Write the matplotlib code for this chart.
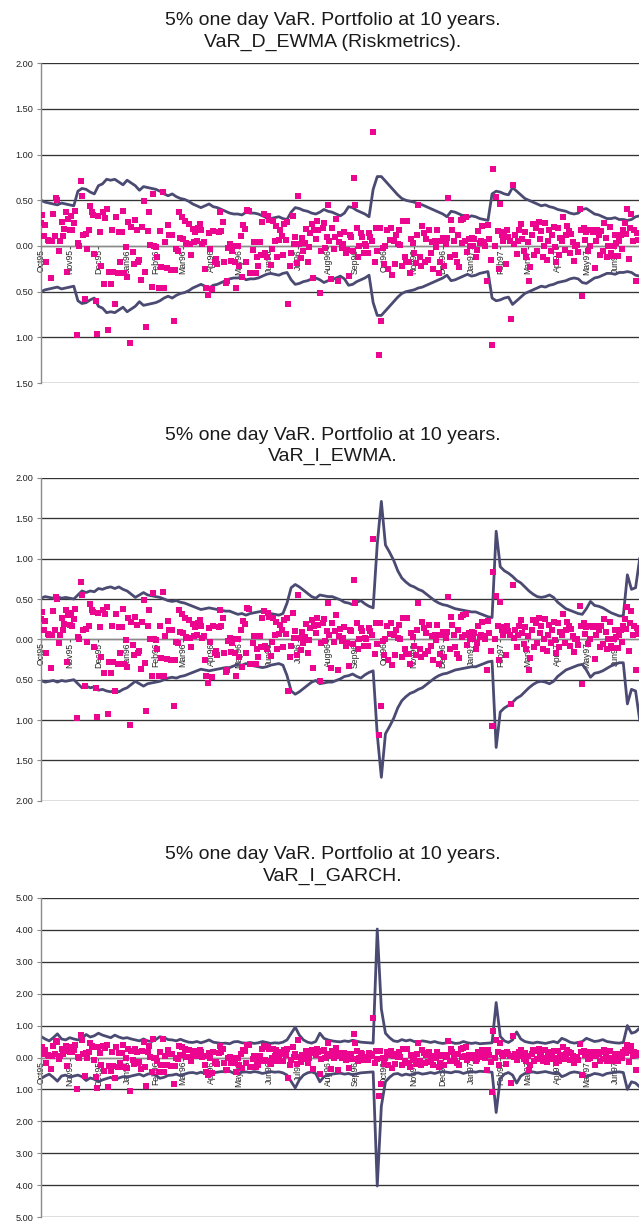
import numpy as np
import matplotlib
matplotlib.use("Agg")
import matplotlib.pyplot as plt
from matplotlib.ticker import MultipleLocator, FuncFormatter

plt.rcParams['font.family'] = ['Liberation Sans', 'DejaVu Sans']

# ---------------- data ----------------
month_labels = ["Oct95", "Nov95", "Dec95", "Jan96", "Feb96", "Mar96", "Apr96",
                "May96", "Jun96", "Jul96", "Aug96", "Sep96", "Oct96", "Nov96",
                "Dec96", "Jan97", "Feb97", "Mar97", "Apr97", "May97", "Jun97"]
month_day = [0, 21, 42, 63, 84, 104, 125, 145, 167, 188, 210, 230, 251, 273,
             294, 315, 336, 356, 378, 399, 420]

# daily portfolio returns (%), one line per month
returns = [
    0.25, 0.34, 0.11, 0.23, -0.17, 0.07, 0.05, -0.35, 0.06, 0.35, 0.11, 0.53, 0.50, -0.05, 0.05, 0.26, 0.11, 0.19, 0.37, -0.28, 0.30,
    0.18, 0.33, 0.17, 0.25, 0.38, -0.97, 0.03, 0.00, 0.71, 0.55, 0.12, -0.58, 0.13, -0.03, 0.17, 0.44, 0.37, 0.34, -0.09, -0.60, -0.96,
    0.33, 0.15, -0.22, 0.37, -0.42, 0.31, 0.40, -0.92, -0.28, -0.42, 0.17, -0.28, -0.64, 0.32, -0.30, 0.15, -0.17, 0.15, 0.38, -0.30, -0.01,
    -0.34, 0.26, -1.06, 0.21, -0.07, -0.20, 0.28, 0.18, -0.17, -0.15, -0.37, 0.21, 0.49, -0.29, -0.89, 0.16, 0.37, 0.01, -0.45, 0.57, 0.00,
    -0.01, -0.12, -0.46, 0.16, -0.23, 0.59, -0.46, 0.04, -0.24, 0.23, 0.12, -0.26, 0.12, -0.82, -0.26, -0.03, -0.05, 0.37, 0.09, 0.32,
    0.08, 0.27, 0.03, 0.02, 0.24, 0.02, -0.10, 0.19, 0.04, 0.15, 0.06, 0.20, 0.24, 0.17, 0.02, 0.04, -0.25, -0.46, -0.54, 0.14, -0.03,
    -0.47, 0.16, -0.17, -0.14, -0.20, 0.15, 0.37, 0.16, 0.26, -0.17, -0.40, -0.38, -0.02, 0.02, -0.16, -0.05, 0.00, -0.17, -0.46, 0.00, -0.22,
    0.11, -0.34, 0.23, 0.19, -0.17, 0.39, 0.38, -0.30, -0.30, -0.04, 0.04, -0.30, -0.12, -0.22, 0.04, -0.10, 0.26, 0.35, -0.08, -0.12, 0.33,
    0.28, -0.21, -0.03, 0.27, 0.06, 0.22, -0.12, 0.07, 0.18, 0.11, -0.10, 0.24, 0.07, 0.26, -0.64, -0.22, -0.08, 0.33, 0.02, 0.10, -0.19,
    0.55, 0.02, -0.13, 0.09, -0.05, 0.03, 0.19, -0.17, -0.01, 0.14, 0.24, -0.35, 0.17, 0.08, 0.27, 0.18, -0.52, -0.05, 0.20, 0.25, -0.02, 0.10,
    0.45, 0.05, -0.36, 0.20, -0.03, 0.10, 0.30, -0.38, 0.04, 0.13, -0.02, 0.02, 0.15, -0.08, -0.04, -0.33, 0.12, 0.10, -0.06, 0.74, 0.45,
    0.20, -0.12, 0.00, 0.14, 0.10, -0.08, 0.02, 0.00, -0.08, 0.14, 0.10, 0.05, 1.25, -0.18, 0.20, -0.06, -1.19, 0.20, -0.82, -0.02,
    -0.20, 0.00, 0.17, -0.25, 0.07, 0.20, -0.32, 0.06, -0.20, 0.12, 0.02, 0.18, 0.01, -0.22, 0.27, -0.12, -0.18, 0.27, -0.18, -0.30, 0.08, 0.03,
    -0.08, -0.19, 0.12, 0.45, -0.12, -0.22, 0.22, 0.14, -0.18, 0.08, -0.15, 0.18, -0.08, 0.04, -0.25, 0.06, -0.01, 0.18, -0.30, -0.18, 0.06,
    0.09, -0.22, 0.02, 0.09, 0.52, -0.12, 0.28, 0.18, 0.06, -0.10, -0.18, 0.12, -0.23, 0.28, 0.03, 0.30, 0.06, 0.32, -0.07, 0.08, 0.00,
    0.09, 0.00, 0.08, -0.12, -0.04, 0.16, 0.03, 0.06, 0.22, 0.04, 0.00, -0.38, 0.23, 0.08, -0.15, -1.08, 0.84, 0.00, 0.54, 0.16, -0.25,
    0.46, 0.12, 0.06, 0.15, -0.20, 0.17, 0.10, 0.05, -0.80, 0.67, 0.02, 0.12, -0.09, 0.06, 0.17, 0.24, 0.08, -0.06, 0.15, -0.12, 0.04,
    -0.38, -0.23, 0.12, 0.24, -0.10, 0.20, -0.05, 0.26, 0.08, 0.16, -0.12, 0.00, 0.25, -0.15, 0.05, 0.18, -0.05, 0.12, 0.21, -0.01, -0.17,
    0.20, -0.10, 0.09, 0.06, 0.32, -0.04, 0.12, 0.22, 0.16, -0.08, 0.13, 0.04, -0.16, 0.00, 0.01, -0.07, 0.41, 0.17, -0.55, 0.20, 0.07,
    0.15, -0.06, 0.17, 0.00, 0.17, 0.15, -0.24, 0.06, 0.17, 0.12, -0.10, 0.16, -0.06, 0.25, 0.09, -0.12, 0.00, 0.21, -0.08, -0.11, 0.00,
    0.12, 0.03, -0.11, 0.05, 0.12, -0.03, 0.17, 0.25, 0.13, 0.40, -0.14, 0.20, 0.35, 0.06, 0.17, -0.38, 0.14, 0.07,
]

# 5% VaR estimates, sampled every third trading day
var_sampling = 3
var_d_ewma = [
    0.50, 0.48, 0.47, 0.46, 0.45, 0.47, 0.46, 0.45, 0.44, 0.60,
    0.63, 0.62, 0.59, 0.57, 0.66, 0.68, 0.73, 0.72, 0.73, 0.70,
    0.67, 0.72, 0.69, 0.66, 0.61, 0.65, 0.64, 0.63, 0.62, 0.60,
    0.57, 0.55, 0.57, 0.54, 0.52, 0.51, 0.49, 0.46, 0.44, 0.42,
    0.44, 0.46, 0.43, 0.42, 0.40, 0.38, 0.36, 0.35, 0.35, 0.34,
    0.37, 0.36, 0.36, 0.35, 0.33, 0.31, 0.30, 0.31, 0.32, 0.30,
    0.29, 0.37, 0.42, 0.41, 0.39, 0.38, 0.36, 0.35, 0.37, 0.40,
    0.38, 0.37, 0.35, 0.33, 0.36, 0.43, 0.42, 0.39, 0.37, 0.35,
    0.32, 0.62, 0.76, 0.76, 0.71, 0.66, 0.61, 0.56, 0.52, 0.50,
    0.49, 0.48, 0.46, 0.45, 0.43, 0.41, 0.39, 0.37, 0.35, 0.32,
    0.38, 0.37, 0.35, 0.33, 0.31, 0.33, 0.32, 0.30, 0.29, 0.28,
    0.57, 0.60, 0.59, 0.57, 0.56, 0.64, 0.60, 0.56, 0.52, 0.50,
    0.48, 0.46, 0.44, 0.45, 0.43, 0.42, 0.40, 0.39, 0.38, 0.36,
    0.35, 0.36, 0.40, 0.41, 0.38, 0.35, 0.34, 0.32, 0.30, 0.30,
    0.31, 0.29, 0.29, 0.28, 0.29, 0.32, 0.33,
]
var_i_ewma = [
    0.51, 0.53, 0.52, 0.51, 0.53, 0.51, 0.52, 0.51, 0.50, 0.55,
    0.60, 0.58, 0.60, 0.59, 0.63, 0.62, 0.64, 0.65, 0.63, 0.65,
    0.62, 0.60, 0.56, 0.52, 0.55, 0.58, 0.55, 0.54, 0.53, 0.52,
    0.50, 0.48, 0.47, 0.48, 0.46, 0.45, 0.43, 0.41, 0.39, 0.37,
    0.38, 0.39, 0.38, 0.37, 0.36, 0.35, 0.35, 0.33, 0.31, 0.32,
    0.30, 0.32, 0.33, 0.34, 0.35, 0.34, 0.32, 0.31, 0.30, 0.32,
    0.45, 0.64, 0.68, 0.65, 0.61, 0.57, 0.53, 0.51, 0.55, 0.54,
    0.53, 0.53, 0.51, 0.49, 0.46, 0.45, 0.43, 0.46, 0.48, 0.44,
    0.41, 0.39, 1.18, 1.71, 1.17, 1.08, 0.98, 0.85, 0.76, 0.71,
    0.67, 0.65, 0.62, 0.60, 0.56, 0.52, 0.48, 0.45, 0.43, 0.42,
    0.40, 0.38, 0.37, 0.36, 0.35, 0.34, 0.34, 0.32, 0.30, 0.28,
    0.27, 1.34, 0.90, 0.85, 0.82, 0.78, 0.73, 0.70, 0.65, 0.60,
    0.56, 0.53, 0.52, 0.53, 0.55, 0.52, 0.46, 0.42, 0.38, 0.36,
    0.34, 0.32, 0.31, 0.38, 0.47, 0.42, 0.41, 0.39, 0.36, 0.33,
    0.31, 0.29, 0.29, 0.80, 0.62, 0.64, 1.00,
]
var_i_garch = [
    0.66, 0.58, 0.52, 0.62, 0.74, 0.58, 0.55, 0.62, 0.58, 0.55,
    0.60, 0.72, 0.64, 0.68, 0.76, 0.70, 0.66, 0.62, 0.70, 0.64,
    0.60, 0.62, 0.58, 0.55, 0.52, 0.58, 0.52, 0.50, 0.56, 0.65,
    0.62, 0.56, 0.55, 0.52, 0.57, 0.52, 0.48, 0.47, 0.50, 0.46,
    0.50, 0.55, 0.48, 0.46, 0.44, 0.45, 0.43, 0.49, 0.50, 0.46,
    0.45, 0.47, 0.44, 0.46, 0.50, 0.47, 0.44, 0.46, 0.45, 0.48,
    0.55, 0.75, 0.95, 0.70, 0.55, 0.48, 0.45, 0.50, 0.76, 0.60,
    0.55, 0.52, 0.50, 0.49, 0.52, 0.50, 0.54, 0.51, 0.48, 0.47,
    0.46, 0.45, 4.02, 1.52, 0.76, 0.62, 0.52, 0.50, 0.56, 0.52,
    0.55, 0.50, 0.48, 0.52, 0.50, 0.47, 0.50, 0.46, 0.44, 0.46,
    0.48, 0.44, 0.45, 0.50, 0.46, 0.44, 0.46, 0.43, 0.44, 0.45,
    0.46, 1.72, 0.66, 0.52, 0.47, 0.55, 0.80, 0.58, 0.50, 0.47,
    0.45, 0.48, 0.46, 0.44, 0.47, 0.50, 0.46, 0.60, 0.55, 0.48,
    0.45, 0.47, 0.50, 0.60, 0.55, 0.50, 0.52, 0.56, 0.50, 0.48,
    0.46, 0.45, 0.47, 1.00, 0.76, 0.80, 0.92,
]

titles = ["VaR_D_EWMA (Riskmetrics).", "VaR_I_EWMA.", "VaR_I_GARCH."]
title_main = "5% one day VaR. Portfolio at 10 years."
var_series = [var_d_ewma, var_i_ewma, var_i_garch]
y_limits = [(-1.5, 2.0), (-2.0, 2.0), (-5.0, 5.0)]
y_steps = [0.5, 0.5, 1.0]

# ---------------- figure ----------------
W, H = 639, 1222
fig = plt.figure(figsize=(W / 100, H / 100), dpi=100)

# axes boxes in pixels: (top, bottom)
boxes = [(63.3, 383.0), (478.0, 800.7), (897.7, 1217.3)]
left_px = 41.0

line_color = '#4A4A72'
dot_color = '#EC058E'
grid_color = '#333333'
axis_color = '#8A8A8A'
text_color = '#222222'

days = np.arange(len(returns))
var_days = np.arange(len(var_d_ewma)) * var_sampling

for i, (top, bot) in enumerate(boxes):
    ax = fig.add_axes([left_px / W, 1 - bot / H, (W - left_px) / W, (bot - top) / H])
    v = np.array(var_series[i])
    ax.plot(var_days, v, color=line_color, lw=2.0, zorder=2, solid_joinstyle='round')
    ax.plot(var_days, -v, color=line_color, lw=2.0, zorder=2, solid_joinstyle='round')
    ax.plot(days, returns, linestyle='none', marker='s', ms=3.9, mew=0,
            color=dot_color, zorder=3)

    ax.set_xlim(0, 437.5)
    ax.set_ylim(*y_limits[i])
    ax.yaxis.set_major_locator(MultipleLocator(y_steps[i]))
    ax.yaxis.set_major_formatter(FuncFormatter(lambda val, pos: f"{abs(val):.2f}"))
    ax.grid(axis='y', color=grid_color, lw=0.95)
    ax.grid(axis='x', visible=False)
    ax.set_axisbelow(True)

    for s in ('top', 'right'):
        ax.spines[s].set_visible(False)
    ax.spines['left'].set_color(axis_color)
    ax.spines['left'].set_linewidth(1.0)
    ax.spines['bottom'].set_position(('data', 0))
    ax.spines['bottom'].set_color(axis_color)
    ax.spines['bottom'].set_linewidth(0.9)

    ax.set_xticks(month_day)
    ax.set_xticklabels(month_labels, rotation=90)
    ax.tick_params(axis='x', direction='out', length=2.0, width=0.8, color='#555555',
                   pad=0.3, labelsize=6.2, labelcolor=text_color)
    ax.tick_params(axis='y', direction='out', length=2.7, width=0.8, color=axis_color,
                   pad=2.6, labelsize=6.6, labelcolor=text_color)
    for lab in ax.get_xticklabels():
        lab.set_zorder(1)

    fig.text(333 / W, 1 - (top - 38.5) / H, title_main, ha='center', va='baseline',
             fontsize=14, color='#1a1a1a')
    fig.text(333 / W, 1 - (top - 16.8) / H, titles[i], ha='center', va='baseline',
             fontsize=14, color='#1a1a1a')

fig.savefig('out.png', dpi=100, facecolor='white')
